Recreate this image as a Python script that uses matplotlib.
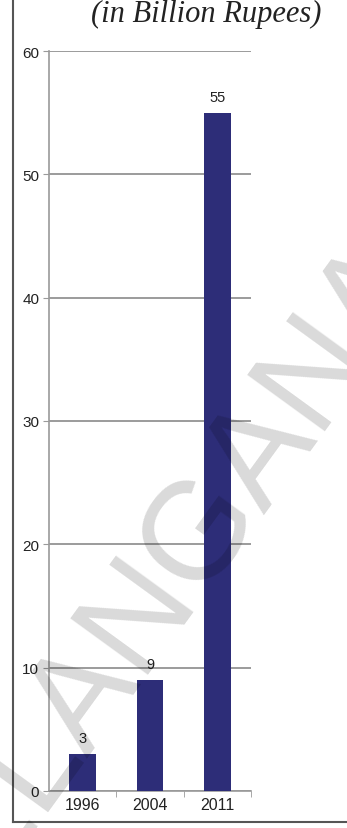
import matplotlib.pyplot as plt

years = ['1996', '2004', '2011']
values = [3, 9, 55]
yticks = [0, 10, 20, 30, 40, 50, 60]

fig = plt.figure(figsize=(3.47, 8.29), dpi=100)
W, H = 347, 829
ax = fig.add_axes([49/W, 1-792/H, 202/W, 740/H])

ax.bar(range(len(years)), values, width=0.4, color='#2d2d78', zorder=3)
for i, v in enumerate(values):
    ax.text(i, v + 0.7, str(v), ha='center', va='bottom', fontsize=10.5,
            color='#222222', family='Liberation Sans')

ax.set_xlim(-0.5, 2.5)
ax.set_ylim(0, 60)
ax.set_yticks(yticks)
ax.set_xticks(range(len(years)))
ax.set_xticklabels(years)
ax.set_xticks([0.5, 1.5, 2.5], minor=True)
ax.yaxis.grid(True, color='#8a8a8a', lw=1.2, zorder=0)
for s in ['top', 'right']:
    ax.spines[s].set_visible(False)
for s in ['left', 'bottom']:
    ax.spines[s].set_color('#9a9a9a')
    ax.spines[s].set_linewidth(1.2)
ax.tick_params(axis='y', length=4, color='#9a9a9a', labelsize=11, pad=3,
               labelcolor='#222222')
ax.tick_params(axis='x', which='major', length=0, labelsize=11.5, pad=4,
               labelcolor='#222222')
ax.tick_params(axis='x', which='minor', length=4, color='#9a9a9a')
for lab in ax.get_xticklabels() + ax.get_yticklabels():
    lab.set_family('Liberation Sans')

# outer frame (left and bottom edges)
fig.add_artist(plt.Line2D([13/W, 13/W], [1, 1-823/H], color='#555555', lw=1.5))
fig.add_artist(plt.Line2D([13/W, 1], [1-823/H, 1-823/H], color='#555555', lw=1.5))

fig.text(206/W, 1-14/H, '(in Billion Rupees)', ha='center', va='center',
         fontsize=22, style='italic', family='Liberation Serif', color='#222222')

# watermark
fig.text(155/W, 1-600/H, 'TELANGANA', ha='center', va='center', rotation=54,
         fontsize=100, color='#000000', alpha=0.15, family='Liberation Sans')

fig.savefig('out.png', dpi=100)
